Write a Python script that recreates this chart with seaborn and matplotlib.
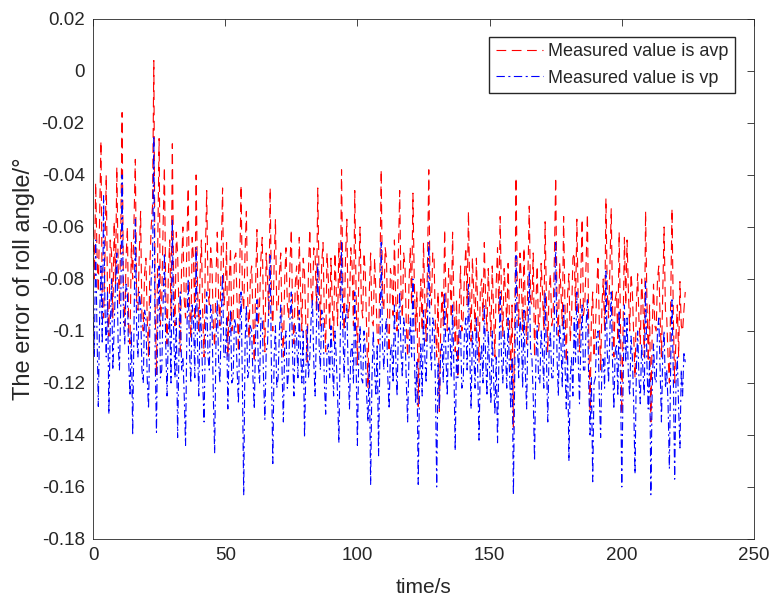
import numpy as np
import pandas as pd
import matplotlib
matplotlib.use("Agg")
import matplotlib.pyplot as plt
import seaborn as sns
from matplotlib.ticker import FuncFormatter

sns.set_theme(style="white")
plt.rcParams["font.family"] = ["Liberation Sans", "DejaVu Sans"]
plt.rcParams["axes.unicode_minus"] = False
plt.rcParams["lines.scale_dashes"] = False

# roll angle error (deg), one sample every 0.5 s
dt = 0.5
avp_err = [
    -0.060, -0.080, -0.043, -0.070, -0.085, -0.055, -0.027, -0.090, -0.095, -0.072,
    -0.040, -0.088, -0.102, -0.065, -0.070, -0.095, -0.058, -0.082, -0.037, -0.075,
    -0.090, -0.062, -0.016, -0.085, -0.098, -0.072, -0.060, -0.100, -0.105, -0.066,
    -0.080, -0.058, -0.034, -0.088, -0.092, -0.070, -0.054, -0.095, -0.100, -0.078,
    -0.072, -0.095, -0.110, -0.075, -0.060, -0.052, 0.004, -0.090, -0.117, -0.065,
    -0.026, -0.098, -0.088, -0.060, -0.037, -0.085, -0.105, -0.078, -0.065, -0.094,
    -0.028, -0.080, -0.098, -0.062, -0.070, -0.092, -0.108, -0.075, -0.060, -0.088,
    -0.095, -0.066, -0.045, -0.090, -0.103, -0.064, -0.072, -0.096, -0.040, -0.082,
    -0.100, -0.078, -0.065, -0.094, -0.110, -0.070, -0.046, -0.085, -0.090, -0.068,
    -0.075, -0.098, -0.106, -0.080, -0.062, -0.088, -0.098, -0.070, -0.045, -0.090,
    -0.085, -0.066, -0.110, -0.082, -0.068, -0.100, -0.095, -0.072, -0.070, -0.090,
    -0.108, -0.076, -0.044, -0.085, -0.092, -0.070, -0.054, -0.088, -0.103, -0.080,
    -0.075, -0.095, -0.112, -0.082, -0.061, -0.098, -0.090, -0.072, -0.064, -0.095,
    -0.108, -0.070, -0.080, -0.094, -0.045, -0.088, -0.100, -0.074, -0.057, -0.092,
    -0.092, -0.078, -0.070, -0.098, -0.110, -0.080, -0.068, -0.090, -0.095, -0.074,
    -0.061, -0.094, -0.105, -0.082, -0.075, -0.096, -0.064, -0.085, -0.100, -0.072,
    -0.078, -0.098, -0.112, -0.076, -0.061, -0.085, -0.090, -0.068, -0.070, -0.092,
    -0.045, -0.080, -0.098, -0.074, -0.066, -0.095, -0.108, -0.070, -0.080, -0.100,
    -0.072, -0.090, -0.104, -0.070, -0.085, -0.098, -0.066, -0.088, -0.038, -0.082,
    -0.100, -0.072, -0.057, -0.095, -0.090, -0.068, -0.075, -0.098, -0.046, -0.085,
    -0.113, -0.080, -0.060, -0.090, -0.095, -0.070, -0.078, -0.100, -0.122, -0.085,
    -0.070, -0.096, -0.098, -0.072, -0.085, -0.102, -0.105, -0.080, -0.038, -0.088,
    -0.092, -0.068, -0.072, -0.098, -0.108, -0.076, -0.080, -0.094, -0.065, -0.088,
    -0.100, -0.070, -0.046, -0.085, -0.095, -0.070, -0.075, -0.098, -0.110, -0.082,
    -0.068, -0.090, -0.047, -0.080, -0.100, -0.085, -0.129, -0.095, -0.080, -0.100,
    -0.066, -0.088, -0.104, -0.075, -0.038, -0.085, -0.090, -0.070, -0.072, -0.098,
    -0.110, -0.085, -0.131, -0.100, -0.085, -0.098, -0.061, -0.088, -0.100, -0.076,
    -0.078, -0.095, -0.062, -0.090, -0.108, -0.088, -0.118, -0.092, -0.075, -0.100,
    -0.095, -0.078, -0.068, -0.090, -0.054, -0.085, -0.104, -0.072, -0.085, -0.100,
    -0.072, -0.092, -0.112, -0.084, -0.080, -0.096, -0.066, -0.088, -0.100, -0.076,
    -0.090, -0.102, -0.075, -0.092, -0.110, -0.082, -0.068, -0.094, -0.056, -0.088,
    -0.102, -0.076, -0.085, -0.098, -0.074, -0.095, -0.115, -0.090, -0.137, -0.098,
    -0.041, -0.085, -0.098, -0.070, -0.080, -0.100, -0.068, -0.092, -0.105, -0.078,
    -0.052, -0.088, -0.090, -0.070, -0.110, -0.090, -0.075, -0.100, -0.095, -0.074,
    -0.085, -0.100, -0.058, -0.088, -0.108, -0.084, -0.078, -0.098, -0.095, -0.072,
    -0.041, -0.090, -0.102, -0.074, -0.085, -0.098, -0.056, -0.090, -0.112, -0.086,
    -0.078, -0.104, -0.095, -0.072, -0.070, -0.092, -0.057, -0.088, -0.108, -0.080,
    -0.057, -0.094, -0.090, -0.074, -0.055, -0.100, -0.131, -0.095, -0.085, -0.110,
    -0.100, -0.085, -0.072, -0.098, -0.115, -0.090, -0.080, -0.100, -0.049, -0.085,
    -0.095, -0.076, -0.053, -0.090, -0.110, -0.088, -0.085, -0.104, -0.062, -0.096,
    -0.132, -0.098, -0.064, -0.090, -0.065, -0.085, -0.100, -0.078, -0.085, -0.102,
    -0.118, -0.090, -0.078, -0.096, -0.105, -0.080, -0.090, -0.110, -0.054, -0.088,
    -0.112, -0.090, -0.135, -0.100, -0.082, -0.098, -0.100, -0.080, -0.075, -0.095,
    -0.110, -0.085, -0.060, -0.092, -0.095, -0.110, -0.120, -0.088, -0.053, -0.095,
    -0.120, -0.102, -0.090, -0.110, -0.081, -0.098, -0.100, -0.092, -0.085,
]
vp_err = [
    -0.090, -0.110, -0.065, -0.100, -0.129, -0.095, -0.075, -0.105, -0.048, -0.090,
    -0.110, -0.085, -0.132, -0.100, -0.080, -0.115, -0.098, -0.082, -0.070, -0.105,
    -0.115, -0.090, -0.040, -0.095, -0.105, -0.082, -0.085, -0.112, -0.125, -0.100,
    -0.140, -0.098, -0.057, -0.100, -0.110, -0.085, -0.090, -0.115, -0.120, -0.092,
    -0.095, -0.118, -0.130, -0.098, -0.080, -0.075, -0.025, -0.110, -0.139, -0.095,
    -0.075, -0.118, -0.115, -0.090, -0.070, -0.105, -0.125, -0.100, -0.095, -0.120,
    -0.057, -0.100, -0.118, -0.095, -0.141, -0.108, -0.085, -0.115, -0.110, -0.125,
    -0.144, -0.100, -0.080, -0.108, -0.120, -0.090, -0.095, -0.118, -0.068, -0.105,
    -0.125, -0.092, -0.100, -0.120, -0.135, -0.102, -0.085, -0.110, -0.115, -0.090,
    -0.095, -0.125, -0.147, -0.105, -0.088, -0.112, -0.120, -0.095, -0.078, -0.110,
    -0.110, -0.095, -0.130, -0.105, -0.092, -0.120, -0.118, -0.095, -0.098, -0.115,
    -0.128, -0.100, -0.085, -0.120, -0.163, -0.105, -0.090, -0.118, -0.115, -0.098,
    -0.100, -0.118, -0.130, -0.102, -0.088, -0.112, -0.120, -0.095, -0.095, -0.118,
    -0.134, -0.108, -0.105, -0.090, -0.071, -0.115, -0.151, -0.110, -0.098, -0.122,
    -0.118, -0.100, -0.090, -0.115, -0.135, -0.105, -0.100, -0.122, -0.115, -0.095,
    -0.085, -0.110, -0.125, -0.098, -0.102, -0.118, -0.092, -0.108, -0.120, -0.100,
    -0.141, -0.115, -0.098, -0.118, -0.110, -0.095, -0.088, -0.112, -0.125, -0.100,
    -0.074, -0.105, -0.115, -0.092, -0.095, -0.120, -0.132, -0.108, -0.105, -0.118,
    -0.098, -0.112, -0.125, -0.100, -0.110, -0.125, -0.143, -0.105, -0.066, -0.100,
    -0.118, -0.095, -0.090, -0.115, -0.130, -0.108, -0.105, -0.120, -0.085, -0.112,
    -0.144, -0.110, -0.098, -0.118, -0.120, -0.100, -0.108, -0.125, -0.135, -0.112,
    -0.159, -0.118, -0.100, -0.115, -0.125, -0.105, -0.148, -0.110, -0.066, -0.105,
    -0.115, -0.100, -0.095, -0.118, -0.130, -0.108, -0.105, -0.120, -0.090, -0.110,
    -0.125, -0.100, -0.085, -0.108, -0.118, -0.095, -0.100, -0.120, -0.135, -0.110,
    -0.095, -0.110, -0.080, -0.108, -0.128, -0.112, -0.159, -0.120, -0.105, -0.125,
    -0.092, -0.110, -0.120, -0.098, -0.066, -0.105, -0.115, -0.095, -0.098, -0.120,
    -0.160, -0.112, -0.130, -0.108, -0.105, -0.120, -0.085, -0.110, -0.125, -0.098,
    -0.100, -0.118, -0.090, -0.115, -0.146, -0.108, -0.118, -0.100, -0.098, -0.122,
    -0.120, -0.100, -0.095, -0.115, -0.082, -0.108, -0.130, -0.100, -0.108, -0.122,
    -0.095, -0.115, -0.142, -0.112, -0.105, -0.120, -0.090, -0.110, -0.125, -0.100,
    -0.115, -0.128, -0.100, -0.118, -0.132, -0.110, -0.143, -0.112, -0.085, -0.110,
    -0.120, -0.100, -0.108, -0.122, -0.095, -0.115, -0.130, -0.110, -0.163, -0.118,
    -0.071, -0.105, -0.118, -0.095, -0.100, -0.122, -0.092, -0.115, -0.130, -0.100,
    -0.077, -0.108, -0.110, -0.125, -0.150, -0.112, -0.098, -0.118, -0.120, -0.100,
    -0.108, -0.122, -0.085, -0.110, -0.135, -0.108, -0.100, -0.118, -0.118, -0.095,
    -0.066, -0.110, -0.125, -0.098, -0.105, -0.122, -0.090, -0.112, -0.130, -0.108,
    -0.150, -0.118, -0.110, -0.125, -0.095, -0.112, -0.085, -0.110, -0.128, -0.105,
    -0.090, -0.115, -0.115, -0.098, -0.088, -0.120, -0.140, -0.118, -0.158, -0.120,
    -0.118, -0.102, -0.100, -0.125, -0.141, -0.112, -0.110, -0.122, -0.077, -0.108,
    -0.120, -0.100, -0.085, -0.112, -0.130, -0.108, -0.105, -0.125, -0.092, -0.118,
    -0.160, -0.120, -0.090, -0.112, -0.095, -0.118, -0.125, -0.102, -0.110, -0.128,
    -0.155, -0.115, -0.100, -0.118, -0.128, -0.105, -0.115, -0.125, -0.081, -0.112,
    -0.130, -0.110, -0.163, -0.122, -0.105, -0.118, -0.120, -0.100, -0.095, -0.115,
    -0.135, -0.108, -0.100, -0.122, -0.115, -0.128, -0.153, -0.112, -0.088, -0.118,
    -0.157, -0.120, -0.110, -0.130, -0.145, -0.115, -0.125, -0.108, -0.112,
]
labels = ["Measured value is avp", "Measured value is vp"]
x_ticks = [0, 50, 100, 150, 200, 250]
y_ticks = [-0.18, -0.16, -0.14, -0.12, -0.10, -0.08, -0.06, -0.04, -0.02, 0.0, 0.02]

time = np.arange(len(avp_err)) * dt
df = pd.DataFrame({"time": time, "avp": avp_err, "vp": vp_err})

fig = plt.figure(figsize=(7.7, 5.98), dpi=100)
ax = fig.add_axes([0.1208, 0.0987, 0.8584, 0.8696])

sns.lineplot(data=df, x="time", y="avp", color="#ff0000", lw=0.8,
             ls=(0, (7, 4)), label=labels[0], estimator=None, sort=False, ax=ax)
sns.lineplot(data=df, x="time", y="vp", color="#0000ff", lw=0.8,
             ls=(0, (6, 2.5, 1.5, 2.5)), label=labels[1], estimator=None, sort=False, ax=ax)

ax.set_xlim(0, 250)
ax.set_ylim(-0.18, 0.02)
ax.set_xticks(x_ticks)
ax.set_yticks(y_ticks)
ax.yaxis.set_major_formatter(FuncFormatter(lambda v, _: f"{round(v, 2) + 0:g}"))
ax.tick_params(direction="in", top=True, right=True, length=4.75, width=0.6,
               labelsize=13.5, colors="#262626", pad=6)
for s in ax.spines.values():
    s.set_color("#262626")
    s.set_linewidth(0.6)

ax.set_xlabel("time/s", fontsize=15, color="#262626", labelpad=10)
ax.set_ylabel("The error of roll angle/°", fontsize=17, color="#262626", labelpad=5)

ax.legend(loc="upper right", bbox_to_anchor=(0.971, 0.965), borderaxespad=0,
          fancybox=False, edgecolor="#262626", framealpha=1, fontsize=13,
          handlelength=2.6, handletextpad=0.3, borderpad=0.35)

fig.savefig("out.png", dpi=100)
